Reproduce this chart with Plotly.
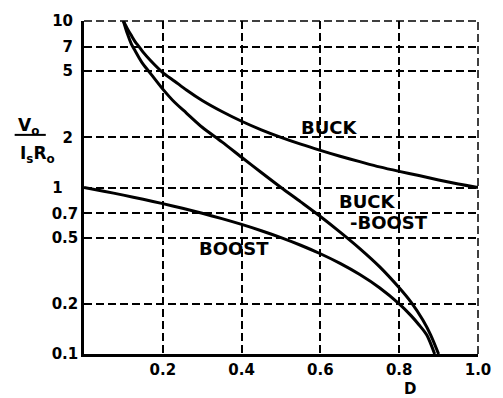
import plotly.graph_objects as go
import math

# ---- data ----
d_buck = [0.10, 0.11, 0.12, 0.13, 0.14, 0.15, 0.17, 0.20, 0.23, 0.26, 0.30, 0.35, 0.40, 0.45, 0.50,
          0.55, 0.60, 0.65, 0.70, 0.75, 0.80, 0.85, 0.90, 0.95, 1.00]
v_buck = [10.0, 9.0, 8.2, 7.5, 7.0, 6.5, 5.75, 4.9, 4.35, 3.85, 3.33, 2.86, 2.5, 2.22, 2.0,
          1.82, 1.67, 1.54, 1.43, 1.33, 1.25, 1.18, 1.11, 1.05, 1.0]

d_bb = [0.10, 0.11, 0.12, 0.13, 0.14, 0.15, 0.17, 0.20, 0.23, 0.26, 0.30, 0.35, 0.40, 0.45, 0.50,
        0.55, 0.60, 0.65, 0.70, 0.75, 0.80, 0.83, 0.86, 0.88, 0.90]
v_bb = [10.0, 8.4, 7.3, 6.6, 6.0, 5.5, 4.8, 3.9, 3.25, 2.8, 2.3, 1.88, 1.52, 1.23, 1.0,
        0.82, 0.67, 0.54, 0.43, 0.335, 0.25, 0.205, 0.16, 0.13, 0.10]

d_boost = [0.0, 0.05, 0.1, 0.15, 0.2, 0.25, 0.3, 0.35, 0.4, 0.45, 0.5, 0.55, 0.6, 0.65, 0.7,
           0.75, 0.8, 0.83, 0.85, 0.87, 0.89]
v_boost = [1.0, 0.95, 0.9, 0.85, 0.8, 0.75, 0.7, 0.65, 0.6, 0.55, 0.5, 0.45, 0.4, 0.35, 0.3,
           0.25, 0.2, 0.17, 0.15, 0.13, 0.10]

x_ticks = [0.2, 0.4, 0.6, 0.8, 1.0]
x_ticktext = ["0.2", "0.4", "0.6", "0.8", "1.0"]
y_ticks = [0.1, 0.2, 0.5, 0.7, 1, 2, 5, 7, 10]
y_ticktext = ["0.1", "0.2", "0.5", "0.7", "1\u00a0\u00a0\u00a0", "2\u00a0", "5\u00a0", "7\u00a0", "10\u00a0"]

labels = ["BUCK", "BUCK", "-BOOST", "BOOST"]
label_d = [0.622, 0.72, 0.775, 0.38]
label_v = [2.28, 0.82, 0.62, 0.43]

FONT = "DejaVu Sans"
BLACK = "#000000"
DASH = "8px,4px"

fig = go.Figure()
for d, v in [(d_buck, v_buck), (d_bb, v_bb), (d_boost, v_boost)]:
    fig.add_trace(go.Scatter(x=d, y=v, mode="lines",
                             line=dict(color=BLACK, width=3, shape="spline", smoothing=0.8),
                             showlegend=False, hoverinfo="skip"))

for t, d, v in zip(labels, label_d, label_v):
    fig.add_annotation(x=d, y=math.log10(v), xref="x", yref="y", text=t, showarrow=False,
                       xanchor="center", yanchor="middle",
                       font=dict(family=FONT, size=18, color=BLACK, weight="bold"))

# axis title "D"
fig.add_annotation(x=0.827, y=-0.104, xref="x", yref="paper", text="D", showarrow=False,
                   xanchor="center", yanchor="middle",
                   font=dict(family=FONT, size=15, color=BLACK, weight="bold"))

# y axis title as a fraction
fig.add_annotation(x=-0.141, y=0.683, xref="paper", yref="paper", text="V<sub>o</sub>", showarrow=False,
                   xanchor="center", yanchor="middle",
                   font=dict(family=FONT, size=17, color=BLACK, weight="bold"))
fig.add_annotation(x=-0.119, y=0.600, xref="paper", yref="paper", text="I<sub>s</sub>R<sub>o</sub>", showarrow=False,
                   xanchor="center", yanchor="middle",
                   font=dict(family=FONT, size=17, color=BLACK, weight="bold"))
fig.add_shape(type="line", xref="paper", yref="paper", x0=-0.176, x1=-0.097, y0=0.658, y1=0.658,
              line=dict(color=BLACK, width=2))

# dashed top and right frame edges
fig.add_shape(type="line", xref="paper", yref="paper", x0=0, x1=1, y0=1, y1=1,
              line=dict(color=BLACK, width=1.5, dash=DASH))
fig.add_shape(type="line", xref="paper", yref="paper", x0=1, x1=1, y0=0, y1=1,
              line=dict(color=BLACK, width=1.5, dash=DASH))

fig.update_xaxes(range=[0, 1], tickvals=x_ticks, ticktext=x_ticktext,
                 showgrid=True, gridcolor=BLACK, gridwidth=1.5, griddash=DASH,
                 showline=True, linecolor=BLACK, linewidth=2.5, ticks="", zeroline=False,
                 tickfont=dict(family=FONT, size=15, color=BLACK, weight="bold"))
fig.update_yaxes(type="log", range=[-1, 1], tickvals=y_ticks, ticktext=y_ticktext,
                 showgrid=True, gridcolor=BLACK, gridwidth=1.5, griddash=DASH,
                 showline=True, linecolor=BLACK, linewidth=2.5, ticks="", zeroline=False,
                 tickfont=dict(family=FONT, size=15, color=BLACK, weight="bold"))

fig.update_layout(width=503, height=398, margin=dict(l=84, r=15, t=18, b=44),
                  paper_bgcolor="white", plot_bgcolor="white")

fig.write_html("out.html")
